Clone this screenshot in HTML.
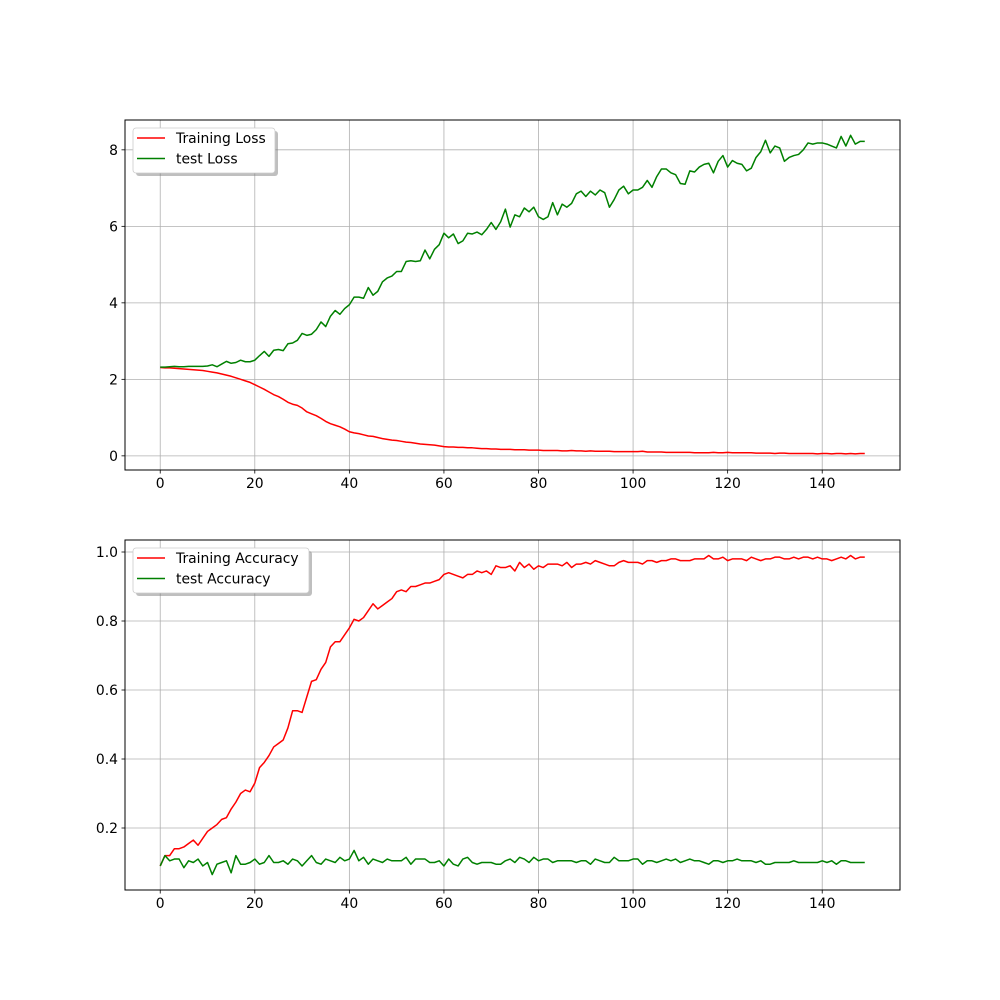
<!DOCTYPE html>
<html><head><meta charset="utf-8"><style>
html,body{margin:0;padding:0;background:#fff;}
svg{display:block;font-family:"DejaVu Sans","Liberation Sans",sans-serif;}
</style></head><body>
<svg id="fig" width="1000" height="1000" viewBox="0 0 1000 1000" xmlns="http://www.w3.org/2000/svg"></svg>
<script>
const epochs = Array.from({length:150},(_,i)=>i);
const trainLoss = [2.31,2.30,2.30,2.29,2.28,2.27,2.26,2.25,2.24,2.23,
2.21,2.19,2.17,2.14,2.11,2.08,2.04,2.00,1.96,1.92,
1.86,1.80,1.74,1.67,1.60,1.55,1.48,1.40,1.35,1.32,
1.25,1.15,1.10,1.05,0.98,0.90,0.84,0.80,0.76,0.70,
0.63,0.60,0.58,0.55,0.52,0.51,0.48,0.45,0.43,0.41,
0.40,0.38,0.36,0.35,0.33,0.31,0.30,0.29,0.28,0.26,
0.24,0.23,0.23,0.22,0.22,0.21,0.21,0.20,0.19,0.19,
0.18,0.18,0.17,0.17,0.17,0.16,0.16,0.16,0.15,0.15,
0.15,0.14,0.14,0.14,0.14,0.13,0.13,0.14,0.13,0.13,
0.12,0.13,0.12,0.12,0.12,0.12,0.11,0.11,0.11,0.11,
0.11,0.11,0.12,0.10,0.10,0.10,0.10,0.09,0.09,0.09,
0.09,0.09,0.09,0.08,0.08,0.08,0.08,0.09,0.08,0.08,
0.09,0.08,0.08,0.08,0.08,0.08,0.07,0.07,0.07,0.07,
0.06,0.07,0.07,0.06,0.06,0.06,0.06,0.06,0.06,0.05,
0.06,0.06,0.05,0.06,0.06,0.05,0.06,0.05,0.06,0.06];
const testLoss = [2.32,2.32,2.33,2.34,2.33,2.33,2.34,2.34,2.34,2.34,
2.35,2.38,2.33,2.40,2.47,2.42,2.44,2.50,2.46,2.46,
2.50,2.62,2.73,2.60,2.76,2.78,2.75,2.93,2.95,3.02,
3.20,3.15,3.18,3.30,3.50,3.38,3.65,3.80,3.70,3.85,
3.95,4.15,4.15,4.12,4.40,4.20,4.30,4.55,4.65,4.70,
4.82,4.82,5.08,5.10,5.08,5.10,5.38,5.15,5.40,5.52,
5.82,5.70,5.80,5.55,5.62,5.82,5.80,5.85,5.78,5.92,
6.10,5.92,6.12,6.45,5.98,6.30,6.25,6.48,6.38,6.50,
6.25,6.18,6.25,6.62,6.30,6.58,6.50,6.60,6.85,6.92,
6.78,6.92,6.82,6.95,6.88,6.50,6.70,6.95,7.05,6.85,
6.95,6.95,7.02,7.20,7.02,7.30,7.50,7.50,7.40,7.35,
7.12,7.10,7.45,7.42,7.55,7.62,7.65,7.40,7.70,7.85,
7.55,7.72,7.65,7.62,7.45,7.52,7.80,7.95,8.25,7.92,
8.10,8.05,7.70,7.80,7.85,7.88,8.00,8.18,8.15,8.18,
8.18,8.15,8.10,8.05,8.35,8.10,8.38,8.15,8.22,8.22];
const trainAcc = [0.09,0.12,0.12,0.14,0.14,0.145,0.155,0.165,0.15,0.17,
0.19,0.20,0.21,0.225,0.23,0.255,0.275,0.30,0.31,0.305,
0.33,0.375,0.39,0.41,0.435,0.445,0.455,0.49,0.54,0.54,
0.535,0.58,0.625,0.63,0.66,0.68,0.725,0.74,0.74,0.76,
0.78,0.805,0.80,0.81,0.83,0.85,0.835,0.845,0.855,0.865,
0.885,0.89,0.885,0.90,0.90,0.905,0.91,0.91,0.915,0.92,
0.935,0.94,0.935,0.93,0.925,0.935,0.935,0.945,0.94,0.945,
0.935,0.96,0.955,0.955,0.96,0.945,0.97,0.955,0.965,0.95,
0.96,0.955,0.965,0.965,0.965,0.96,0.97,0.955,0.965,0.965,
0.97,0.965,0.975,0.97,0.965,0.96,0.96,0.97,0.975,0.97,
0.97,0.97,0.965,0.975,0.975,0.97,0.975,0.975,0.98,0.98,
0.975,0.975,0.975,0.98,0.98,0.98,0.99,0.98,0.98,0.985,
0.975,0.98,0.98,0.98,0.975,0.985,0.98,0.975,0.98,0.98,
0.985,0.985,0.98,0.98,0.985,0.98,0.985,0.985,0.98,0.985,
0.98,0.98,0.975,0.98,0.985,0.98,0.99,0.98,0.985,0.985];
const testAcc = [0.09,0.12,0.105,0.11,0.11,0.085,0.105,0.10,0.11,0.09,
0.10,0.065,0.095,0.10,0.105,0.07,0.12,0.095,0.095,0.10,
0.11,0.095,0.10,0.12,0.10,0.10,0.105,0.095,0.11,0.105,
0.09,0.105,0.12,0.10,0.095,0.11,0.105,0.10,0.115,0.105,
0.11,0.135,0.105,0.115,0.095,0.11,0.105,0.10,0.11,0.105,
0.105,0.105,0.115,0.095,0.11,0.11,0.11,0.10,0.10,0.105,
0.09,0.11,0.095,0.09,0.11,0.115,0.10,0.095,0.10,0.10,
0.10,0.095,0.095,0.105,0.11,0.10,0.115,0.11,0.10,0.115,
0.105,0.11,0.11,0.10,0.105,0.105,0.105,0.105,0.10,0.105,
0.105,0.095,0.11,0.105,0.10,0.10,0.115,0.105,0.105,0.105,
0.11,0.11,0.095,0.105,0.105,0.10,0.105,0.11,0.105,0.11,
0.10,0.105,0.11,0.105,0.105,0.10,0.095,0.105,0.105,0.10,
0.105,0.105,0.11,0.105,0.105,0.105,0.10,0.105,0.095,0.095,
0.10,0.10,0.10,0.10,0.105,0.10,0.10,0.10,0.10,0.10,
0.105,0.10,0.105,0.095,0.105,0.105,0.10,0.10,0.10,0.10];
const xTicks = [0,20,40,60,80,100,120,140];
const lossTicks = [0,2,4,6,8];
const accTicks = [0.2,0.4,0.6,0.8,1.0];
const accTickLabels = ["0.2","0.4","0.6","0.8","1.0"];

const NS="http://www.w3.org/2000/svg";
const svg=document.getElementById('fig');
function mk(tag,attrs,parent){const e=document.createElementNS(NS,tag);for(const k in attrs)e.setAttribute(k,attrs[k]);(parent||svg).appendChild(e);return e;}

function panel(cfg){
  const L=125,R=900,T=cfg.top,B=cfg.top+350;
  const g=mk('g',{});
  
  
  const xs=v=>L+(v-(-7.45))/(156.45-(-7.45))*(R-L);
  const ys=v=>B-(v-cfg.ymin)/(cfg.ymax-cfg.ymin)*(B-T);
  xTicks.forEach(t=>{const l=mk('line',{x1:xs(t),x2:xs(t),y1:T,y2:B,stroke:'#b0b0b0','stroke-width':0.8},g);
    });
  cfg.yTicks.forEach(t=>{const l=mk('line',{x1:L,x2:R,y1:ys(t),y2:ys(t),stroke:'#b0b0b0','stroke-width':0.8},g);
    });
  cfg.series.forEach(s=>{
    const d=s.vals.map((v,i)=>(i?'L':'M')+xs(epochs[i]).toFixed(2)+','+ys(v).toFixed(2)).join('');
    const p=mk('path',{d:d,fill:'none',stroke:s.color,'stroke-width':1.5,'stroke-linejoin':'round'},g);
    
    
  });
  const fr=mk('rect',{x:L,y:T,width:R-L,height:B-T,fill:'none',stroke:'#000','stroke-width':1},g);
  
  xTicks.forEach(t=>{mk('line',{x1:xs(t),x2:xs(t),y1:B,y2:B+3.5,stroke:'#000','stroke-width':0.8},g);
    const tx=mk('text',{x:xs(t),y:B+18,'text-anchor':'middle','font-size':'13.9px',fill:'#000'},g);tx.textContent=t;
    });
  cfg.yTicks.forEach((t,i)=>{mk('line',{x1:L-3.5,x2:L,y1:ys(t),y2:ys(t),stroke:'#000','stroke-width':0.8},g);
    const tx=mk('text',{x:L-7,y:ys(t)+5,'text-anchor':'end','font-size':'13.9px',fill:'#000'},g);tx.textContent=cfg.yLabels[i];
    });
  const lg=mk('g',{},g);
  
  const lx=133,ly=T+8,lw=cfg.legW,lh=45;
  mk('rect',{x:lx+3,y:ly+3,width:lw,height:lh,rx:3,fill:'#808080',opacity:0.5},lg);
  mk('rect',{x:lx,y:ly,width:lw,height:lh,rx:3,fill:'#fff',stroke:'#ccc','stroke-width':0.8},lg);
  cfg.series.forEach((s,i)=>{
    const yy=ly+10+i*20.5;
    const e=mk('g',{},lg);
    
    mk('line',{x1:137,x2:165,y1:yy,y2:yy,stroke:s.color,'stroke-width':1.5},e);
    const t=mk('text',{x:176,y:yy+5,'font-size':'13.9px',fill:'#000'},e);t.textContent=s.label;
  });
}
panel({name:'loss-panel',top:120,ymin:-0.37,ymax:8.78,yTicks:lossTicks,yLabels:lossTicks.map(String),legW:142,
  series:[{id:'training-loss-line',vals:trainLoss,color:'#ff0000',label:'Training Loss'},
          {id:'test-loss-line',vals:testLoss,color:'#008000',label:'test Loss'}]});
panel({name:'accuracy-panel',top:540,ymin:0.0203,ymax:1.0348,yTicks:accTicks,yLabels:accTickLabels,legW:176,
  series:[{id:'training-accuracy-line',vals:trainAcc,color:'#ff0000',label:'Training Accuracy'},
          {id:'test-accuracy-line',vals:testAcc,color:'#008000',label:'test Accuracy'}]});
</script>
</body></html>
